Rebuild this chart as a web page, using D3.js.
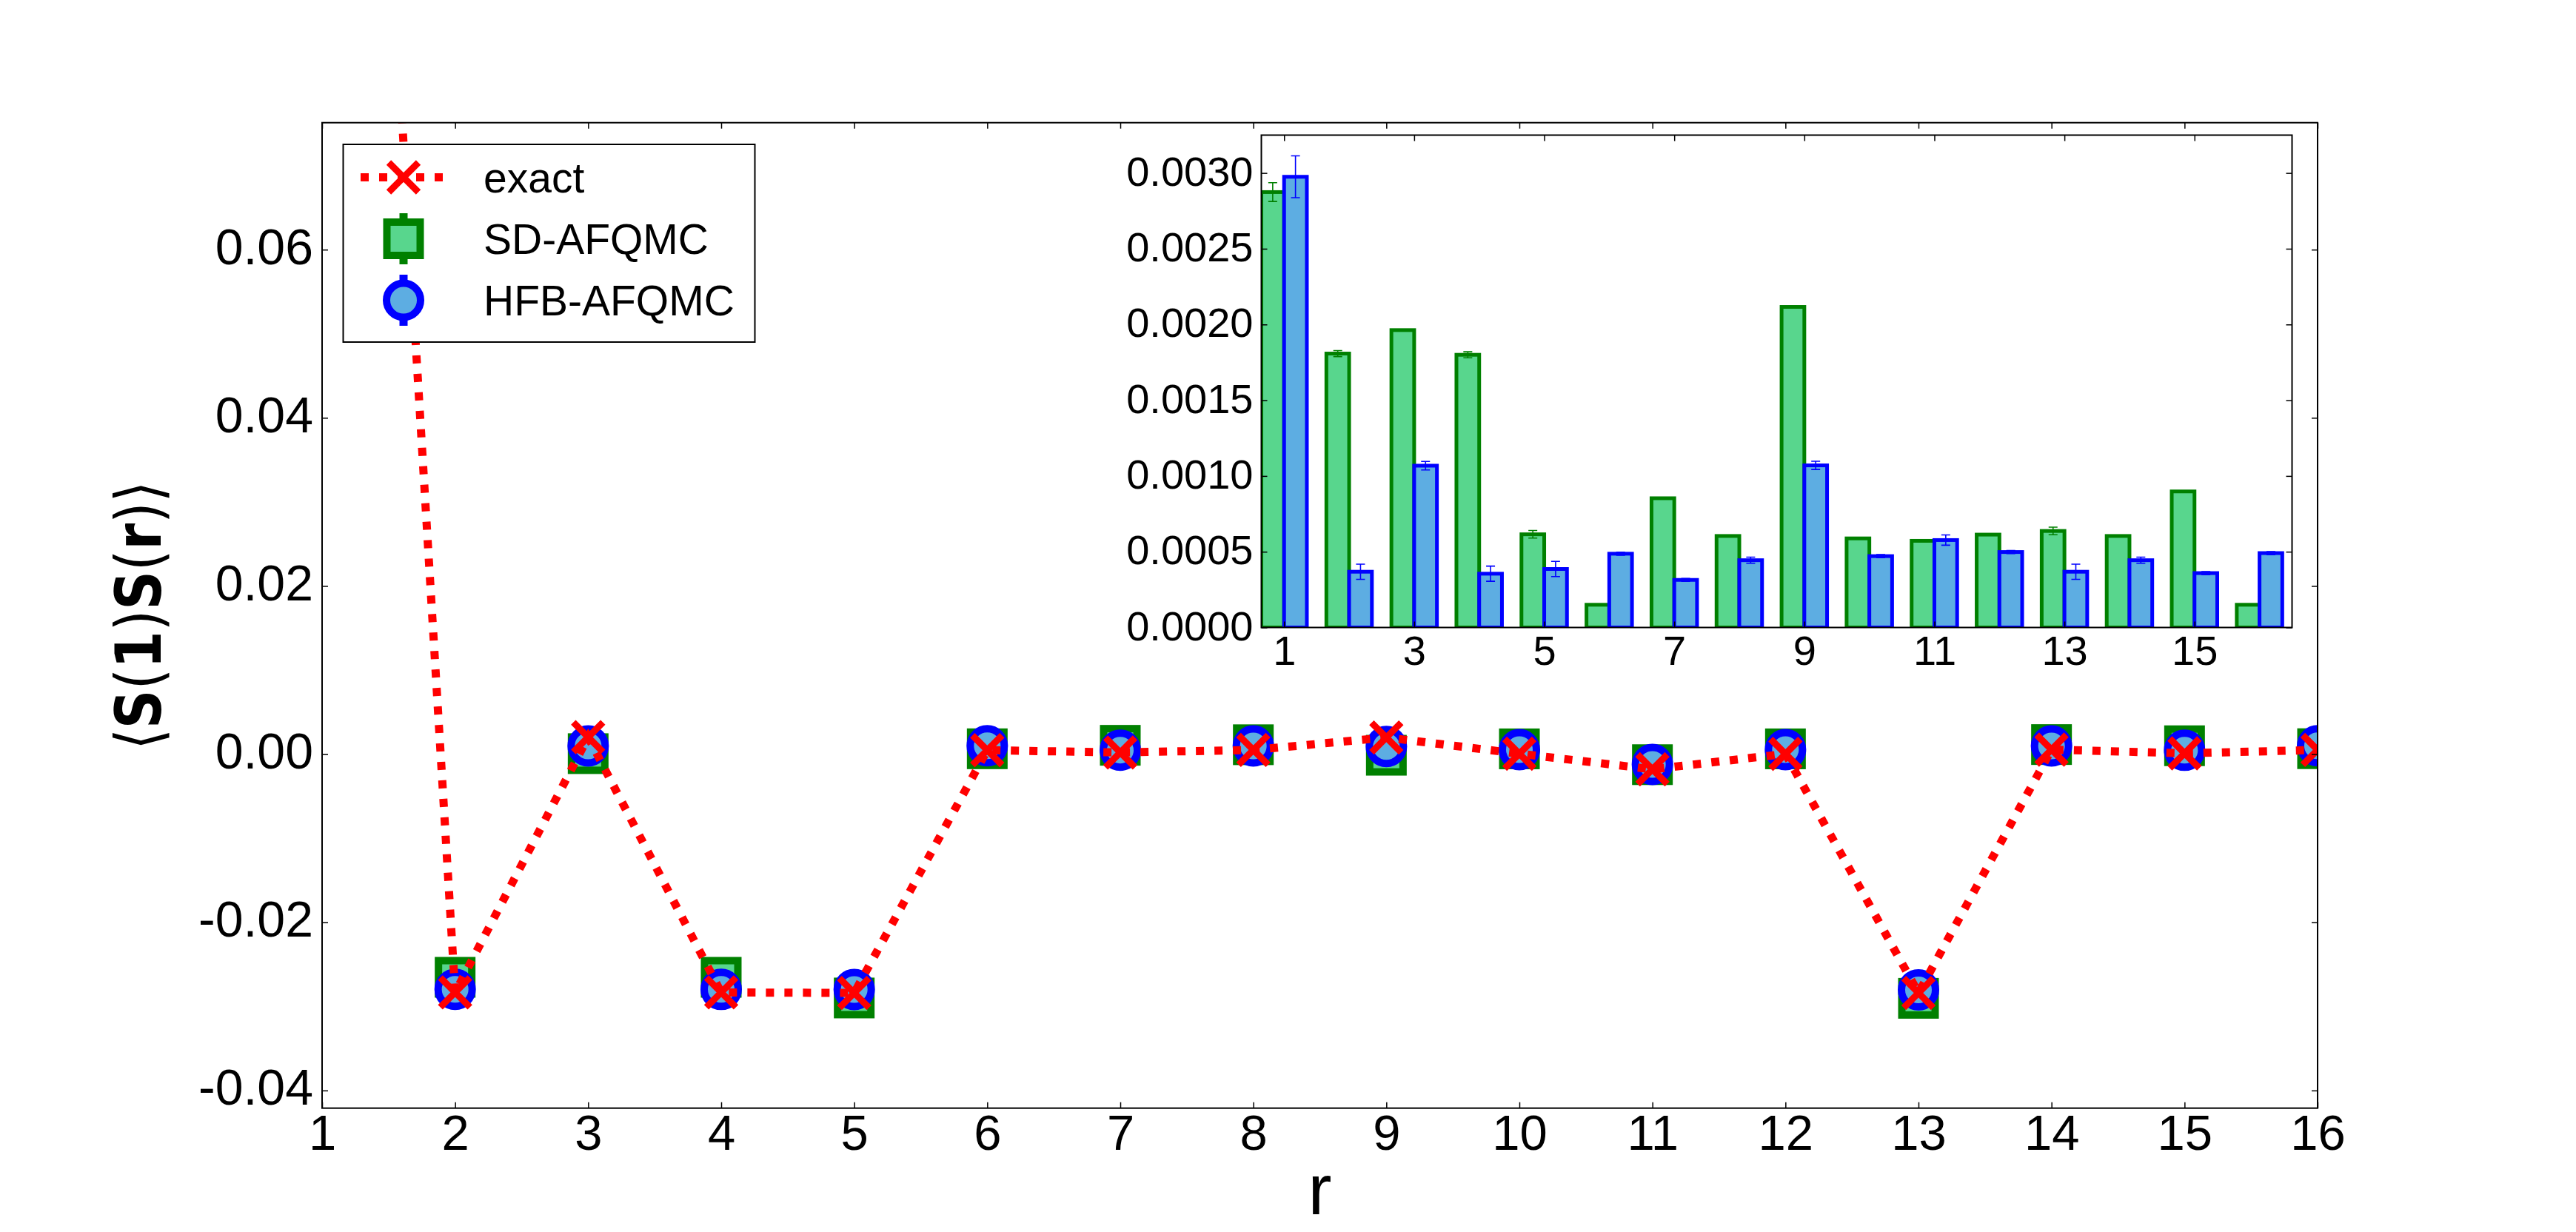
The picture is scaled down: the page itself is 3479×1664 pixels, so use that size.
<!DOCTYPE html>
<html><head><meta charset="utf-8">
<script src="https://cdn.jsdelivr.net/npm/d3@7"></script>
<style>body{margin:0;background:#fff} svg{display:block}</style>
</head><body>
<svg id="c" width="3479" height="1664"></svg>
<script>
// ---------- data ----------
const rVals = [1,2,3,4,5,6,7,8,9,10,11,12,13,14,15,16];
const exactVals = [0.232, -0.02834, 0.00202, -0.02834, -0.0284, 0.00047, 0.0002, 0.0005, 0.00198, 0.00005, -0.0018, 0.00003, -0.0284, 0.00054, 0.0001, 0.0005];
const sdVals  = [0.2291, -0.02654, 0.00006, -0.02654, -0.0290, 0.00064, 0.00105, 0.00112, -0.00013, 0.00063, -0.00125, 0.00063, -0.02904, 0.00114, 0.00100, 0.00065];
const hfbVals = [0.2290, -0.02797, 0.00097, -0.02798, -0.0280, 0.00100, 0.00048, 0.00097, 0.00091, 0.00053, -0.00123, 0.00053, -0.02803, 0.00098, 0.00046, 0.00100];
// inset: deviations and their statistical errors
const sdDev  = [0.002874, 0.001808, 0.001963, 0.0018, 0.000615, 0.00015, 0.000853, 0.000604, 0.002116, 0.000588, 0.000572, 0.000613, 0.000637, 0.000604, 0.000898, 0.00015];
const hfbDev = [0.002975, 0.000368, 0.001068, 0.000355, 0.000386, 0.000487, 0.000314, 0.000444, 0.00107, 0.000471, 0.000577, 0.000498, 0.000368, 0.000444, 0.000359, 0.000491];
const sdStat  = [0.000062, 0.00002, 0.000005, 0.00002, 0.000025, 0.000005, 0.000005, 0.000005, 0.000005, 0.000005, 0.000005, 0.000005, 0.000025, 0.000005, 0.000005, 0.000005];
const hfbStat = [0.000138, 0.00005, 0.000028, 0.00005, 0.00005, 0.00001, 0.00001, 0.00002, 0.000027, 0.00001, 0.000034, 0.00001, 0.00005, 0.00002, 0.00001, 0.00001];
const mainXTicks = [1,2,3,4,5,6,7,8,9,10,11,12,13,14,15,16];
const mainYTicks = [-0.04, -0.02, 0, 0.02, 0.04, 0.06];
const mainYTickLabels = ["-0.04", "-0.02", "0.00", "0.02", "0.04", "0.06"];
const insetXTicks = [1,3,5,7,9,11,13,15];
const insetYTicks = [0, 0.0005, 0.001, 0.0015, 0.002, 0.0025, 0.003];
const insetYTickLabels = ["0.0000","0.0005","0.0010","0.0015","0.0020","0.0025","0.0030"];
const seriesNames = ["exact", "SD-AFQMC", "HFB-AFQMC"];

// ---------- styles ----------
const RED = "#ff0000", GREEN = "#008000", GFILL = "#58D68D", BLUE = "#0000ff", BFILL = "#5DADE2";
const FONT = "'Liberation Sans', Arial, Helvetica, sans-serif";

const svg = d3.select("#c");
svg.append("rect").attr("width",3479).attr("height",1664).attr("fill","#fff");

// ---------- main axes ----------
const M = {l:435, r:3130, t:165.7, b:1496.7};
const x = d3.scaleLinear().domain([1,16]).range([M.l, M.r]);
const y = d3.scaleLinear().domain([-0.0421, 0.0751]).range([M.b, M.t]);

const defs = svg.append("defs");
defs.append("clipPath").attr("id","mainClip").append("rect")
  .attr("x",M.l).attr("y",M.t).attr("width",M.r-M.l).attr("height",M.b-M.t);

const plot = svg.append("g").attr("clip-path","url(#mainClip)");

function sq(g, cx, cy){
  g.append("rect").attr("x",cx-22.5).attr("y",cy-22.5).attr("width",45).attr("height",45)
   .attr("fill",GFILL).attr("stroke",GREEN).attr("stroke-width",10);
}
function circ(g, cx, cy){
  g.append("circle").attr("cx",cx).attr("cy",cy).attr("r",23)
   .attr("fill",BFILL).attr("stroke",BLUE).attr("stroke-width",10);
}
function xmark(g, cx, cy){
  const s = 20;
  g.append("path").attr("d",`M${cx-s},${cy-s}L${cx+s},${cy+s}M${cx-s},${cy+s}L${cx+s},${cy-s}`)
   .attr("stroke",RED).attr("stroke-width",9).attr("fill","none");
}

// SD-AFQMC
rVals.forEach((rv,i)=>{
  plot.append("line").attr("x1",x(rv)).attr("x2",x(rv))
    .attr("y1",y(sdVals[i]-sdStat[i])).attr("y2",y(sdVals[i]+sdStat[i]))
    .attr("stroke",GREEN).attr("stroke-width",10);
  sq(plot, x(rv), y(sdVals[i]));
});
// HFB-AFQMC
rVals.forEach((rv,i)=>{
  plot.append("line").attr("x1",x(rv)).attr("x2",x(rv))
    .attr("y1",y(hfbVals[i]-hfbStat[i])).attr("y2",y(hfbVals[i]+hfbStat[i]))
    .attr("stroke",BLUE).attr("stroke-width",10);
  circ(plot, x(rv), y(hfbVals[i]));
});
// exact
const line = d3.line().x((d,i)=>x(rVals[i])).y(d=>y(d));
plot.append("path").datum(exactVals).attr("d",line)
  .attr("fill","none").attr("stroke",RED).attr("stroke-width",11)
  .attr("stroke-dasharray","11,14");
rVals.forEach((rv,i)=> xmark(plot, x(rv), y(exactVals[i])));

// main axes / ticks
function styleAxis(g){
  g.select(".domain").remove();
  g.selectAll(".tick line").attr("stroke","#000").attr("stroke-width",1.5);
}
svg.append("g").attr("transform",`translate(0,${M.b})`)
  .call(d3.axisBottom(x).tickValues(mainXTicks).tickSizeInner(-8).tickSizeOuter(0).tickFormat(d3.format("d")))
  .call(styleAxis)
  .call(g=>g.selectAll(".tick text").attr("y",56).attr("dy",null)
     .attr("font-size",67).attr("font-family",FONT).attr("fill","#000"));
svg.append("g").attr("transform",`translate(0,${M.t})`)
  .call(d3.axisTop(x).tickValues(mainXTicks).tickSizeInner(-8).tickSizeOuter(0).tickFormat(""))
  .call(styleAxis);
svg.append("g").attr("transform",`translate(${M.l},0)`)
  .call(d3.axisLeft(y).tickValues(mainYTicks).tickSizeInner(-8).tickSizeOuter(0)
     .tickFormat((d,i)=>mainYTickLabels[i]))
  .call(styleAxis)
  .call(g=>g.selectAll(".tick text").attr("x",-12).attr("y",19).attr("dy",null)
     .attr("font-size",68).attr("font-family",FONT).attr("fill","#000"));
svg.append("g").attr("transform",`translate(${M.r},0)`)
  .call(d3.axisRight(y).tickValues(mainYTicks).tickSizeInner(-8).tickSizeOuter(0).tickFormat(""))
  .call(styleAxis);
svg.append("rect").attr("x",M.l).attr("y",M.t).attr("width",M.r-M.l).attr("height",M.b-M.t)
  .attr("fill","none").attr("stroke","#000").attr("stroke-width",2);

// axis labels
svg.append("text").attr("x",(M.l+M.r)/2).attr("y",1640).attr("text-anchor","middle")
  .attr("font-family",FONT).attr("font-size",96).text("r");
const yl = svg.append("text").attr("transform",`translate(217,${(M.t+M.b)/2}) rotate(-90)`)
  .attr("text-anchor","middle").attr("font-family","'DejaVu Sans', sans-serif").attr("font-size",86)
  .attr("textLength",363).attr("lengthAdjust","spacingAndGlyphs");
[["\u27E8",400],["S",700],["(",400],["1",700],[")",400],["S",700],["(",400],["r",700],[")",400],["\u27E9",400]]
  .forEach(([t,w])=> yl.append("tspan").attr("font-weight",w).text(t));

// ---------- legend ----------
const L = {x:463.5, y:195, w:556, h:267};
const lg = svg.append("g");
lg.append("rect").attr("x",L.x).attr("y",L.y).attr("width",L.w).attr("height",L.h)
  .attr("fill","#fff").attr("stroke","#000").attr("stroke-width",2);
const lcx = 545, rows = [239.5, 322.5, 405.5], tx = 653;
lg.append("line").attr("x1",487).attr("x2",603).attr("y1",rows[0]).attr("y2",rows[0])
  .attr("stroke",RED).attr("stroke-width",11).attr("stroke-dasharray","11,14");
xmark(lg, lcx, rows[0]);
lg.append("line").attr("x1",lcx).attr("x2",lcx).attr("y1",rows[1]-34.5).attr("y2",rows[1]+34.5)
  .attr("stroke",GREEN).attr("stroke-width",11);
sq(lg, lcx, rows[1]);
lg.append("line").attr("x1",lcx).attr("x2",lcx).attr("y1",rows[2]-34.5).attr("y2",rows[2]+34.5)
  .attr("stroke",BLUE).attr("stroke-width",11);
circ(lg, lcx, rows[2]);
seriesNames.forEach((n,i)=> lg.append("text").attr("x",tx).attr("y",rows[i]+20.5)
  .attr("font-family",FONT).attr("font-size",57).text(n));

// ---------- inset ----------
const I = {l:1703.5, r:3095.5, t:182.5, b:847.5};
const xi = d3.scaleLinear().domain([0.65,16.5]).range([I.l, I.r]);
const yi = d3.scaleLinear().domain([0,0.00325]).range([I.b, I.t]);
svg.append("rect").attr("x",I.l).attr("y",I.t).attr("width",I.r-I.l).attr("height",I.b-I.t).attr("fill","#fff");
defs.append("clipPath").attr("id","insetClip").append("rect")
  .attr("x",I.l).attr("y",I.t).attr("width",I.r-I.l).attr("height",I.b-I.t);
const ip = svg.append("g").attr("clip-path","url(#insetClip)");
const bw = 0.35;
rVals.forEach((rv,i)=>{
  ip.append("rect").attr("x",xi(rv-bw)).attr("width",xi(rv)-xi(rv-bw))
    .attr("y",yi(sdDev[i])).attr("height",yi(0)-yi(sdDev[i]))
    .attr("fill",GFILL).attr("stroke",GREEN).attr("stroke-width",5);
  ip.append("rect").attr("x",xi(rv)).attr("width",xi(rv+bw)-xi(rv))
    .attr("y",yi(hfbDev[i])).attr("height",yi(0)-yi(hfbDev[i]))
    .attr("fill",BFILL).attr("stroke",BLUE).attr("stroke-width",5);
});
function ebar(g, cx, v, e, col){
  const y1 = yi(v-e), y2 = yi(v+e);
  g.append("path").attr("d",`M${cx},${y1}L${cx},${y2}M${cx-6},${y1}L${cx+6},${y1}M${cx-6},${y2}L${cx+6},${y2}`)
   .attr("stroke",col).attr("stroke-width",1.6).attr("fill","none");
}
rVals.forEach((rv,i)=>{
  ebar(ip, xi(rv-bw/2), sdDev[i], sdStat[i], GREEN);
  ebar(ip, xi(rv+bw/2), hfbDev[i], hfbStat[i], BLUE);
});
svg.append("g").attr("transform",`translate(0,${I.b})`)
  .call(d3.axisBottom(xi).tickValues(insetXTicks).tickSizeInner(-8).tickSizeOuter(0).tickFormat(d3.format("d")))
  .call(styleAxis)
  .call(g=>g.selectAll(".tick text").attr("y",50).attr("dy",null)
     .attr("font-size",56).attr("font-family",FONT).attr("fill","#000"));
svg.append("g").attr("transform",`translate(0,${I.t})`)
  .call(d3.axisTop(xi).tickValues(insetXTicks).tickSizeInner(-8).tickSizeOuter(0).tickFormat(""))
  .call(styleAxis);
svg.append("g").attr("transform",`translate(${I.l},0)`)
  .call(d3.axisLeft(yi).tickValues(insetYTicks).tickSizeInner(-8).tickSizeOuter(0)
     .tickFormat((d,i)=>insetYTickLabels[i]))
  .call(styleAxis)
  .call(g=>g.selectAll(".tick text").attr("x",-11).attr("y",16.5).attr("dy",null)
     .attr("font-size",56).attr("font-family",FONT).attr("fill","#000"));
svg.append("g").attr("transform",`translate(${I.r},0)`)
  .call(d3.axisRight(yi).tickValues(insetYTicks).tickSizeInner(-8).tickSizeOuter(0).tickFormat(""))
  .call(styleAxis);
svg.append("rect").attr("x",I.l).attr("y",I.t).attr("width",I.r-I.l).attr("height",I.b-I.t)
  .attr("fill","none").attr("stroke","#000").attr("stroke-width",2);
</script>
</body></html>
